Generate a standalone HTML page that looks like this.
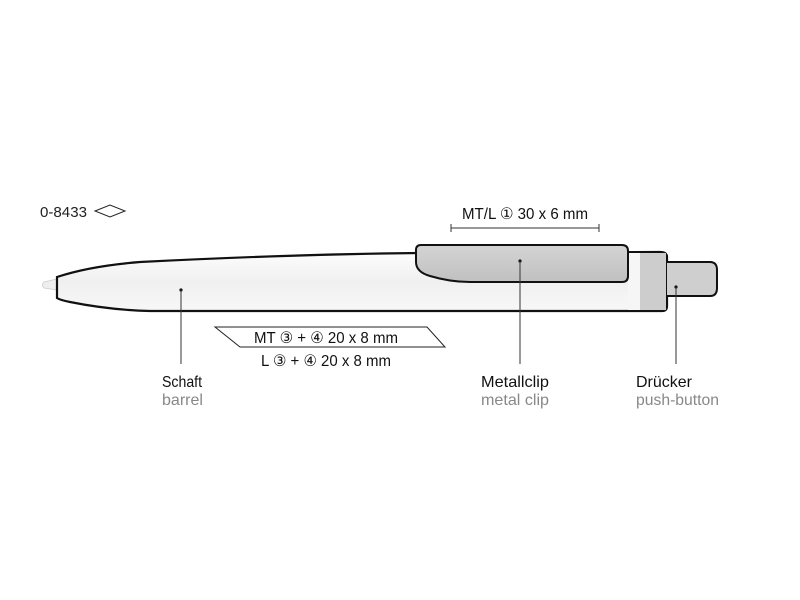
<!DOCTYPE html>
<html><head><meta charset="utf-8"><style>
html,body{margin:0;padding:0;background:#fff;}
svg{display:block;font-family:"Liberation Sans Narrow","Liberation Sans",sans-serif;}
</style></head><body>
<svg width="800" height="600" viewBox="0 0 800 600" xmlns="http://www.w3.org/2000/svg">
<defs>
<linearGradient id="bar" x1="0" y1="0" x2="0" y2="1">
<stop offset="0" stop-color="#fdfdfd"/><stop offset="0.5" stop-color="#f0f0f0"/><stop offset="1" stop-color="#f7f7f7"/>
</linearGradient>
<linearGradient id="clip" x1="0" y1="0" x2="0" y2="1">
<stop offset="0" stop-color="#d4d4d4"/><stop offset="1" stop-color="#c0c0c0"/>
</linearGradient>
</defs>
<text x="40" y="217" font-size="15" fill="#222" textLength="47" lengthAdjust="spacingAndGlyphs">0-8433</text>
<polygon points="95,211 110,205 125,211 110,217" fill="none" stroke="#222" stroke-width="1"/>
<path d="M57,279 L44,282 Q41,285 44,288 L57,290 Z" fill="#eee" stroke="#ccc" stroke-width="0.8"/>
<path d="M57,277 L57,298 Q60,300 70,302 Q110,310 150,311 L662,311 Q667,311 667,306 L667,257 Q667,252 660,252 L420,253 Q300,254 140,262 Q90,266 57,277 Z" fill="url(#bar)" stroke="#111" stroke-width="2.2"/>
<rect x="628" y="253" width="12" height="57" fill="#f6f6f6"/>
<rect x="640" y="253" width="26" height="57" fill="#cdcdcd"/>
<path d="M667,262 L710,262 Q717,262 717,270 L717,288 Q717,296 710,296 L667,296" fill="#cfcfcf" stroke="#111" stroke-width="2"/>
<path d="M421,245 L622,245 Q628,245 628,251 L628,276 Q628,282 622,282 L470,282 Q450,282 430,276 Q416,272 416,262 L416,250 Q416,245 421,245 Z" fill="url(#clip)" stroke="#111" stroke-width="2"/>
<text x="525" y="219" font-size="16" fill="#111" text-anchor="middle" textLength="126" lengthAdjust="spacingAndGlyphs">MT/L ① 30 x 6 mm</text>
<line x1="451" y1="228" x2="599" y2="228" stroke="#333" stroke-width="1"/>
<line x1="451" y1="224" x2="451" y2="232" stroke="#333" stroke-width="1"/>
<line x1="599" y1="224" x2="599" y2="232" stroke="#333" stroke-width="1"/>
<path d="M215,327 L427,327 L445,347 L240,347 Z" fill="none" stroke="#222" stroke-width="1"/>
<text x="326" y="343" font-size="16" fill="#111" text-anchor="middle" textLength="144" lengthAdjust="spacingAndGlyphs">MT ③ + ④ 20 x 8 mm</text>
<text x="326" y="366" font-size="16" fill="#111" text-anchor="middle" textLength="130" lengthAdjust="spacingAndGlyphs">L ③ + ④ 20 x 8 mm</text>
<circle cx="181" cy="290" r="1.6" fill="#111"/>
<line x1="181" y1="290" x2="181" y2="364" stroke="#333" stroke-width="1"/>
<circle cx="520" cy="261" r="1.6" fill="#111"/>
<line x1="520" y1="261" x2="520" y2="364" stroke="#333" stroke-width="1"/>
<circle cx="676" cy="287" r="1.6" fill="#111"/>
<line x1="676" y1="287" x2="676" y2="364" stroke="#333" stroke-width="1"/>
<text x="162" y="387" font-size="16" fill="#111" textLength="40" lengthAdjust="spacingAndGlyphs">Schaft</text>
<text x="162" y="405" font-size="16" fill="#888" textLength="41" lengthAdjust="spacingAndGlyphs">barrel</text>
<text x="481" y="387" font-size="16" fill="#111" textLength="68" lengthAdjust="spacingAndGlyphs">Metallclip</text>
<text x="481" y="405" font-size="16" fill="#888" textLength="68" lengthAdjust="spacingAndGlyphs">metal clip</text>
<text x="636" y="387" font-size="16" fill="#111" textLength="56" lengthAdjust="spacingAndGlyphs">Drücker</text>
<text x="636" y="405" font-size="16" fill="#888" textLength="83" lengthAdjust="spacingAndGlyphs">push-button</text>
</svg>
</body></html>
